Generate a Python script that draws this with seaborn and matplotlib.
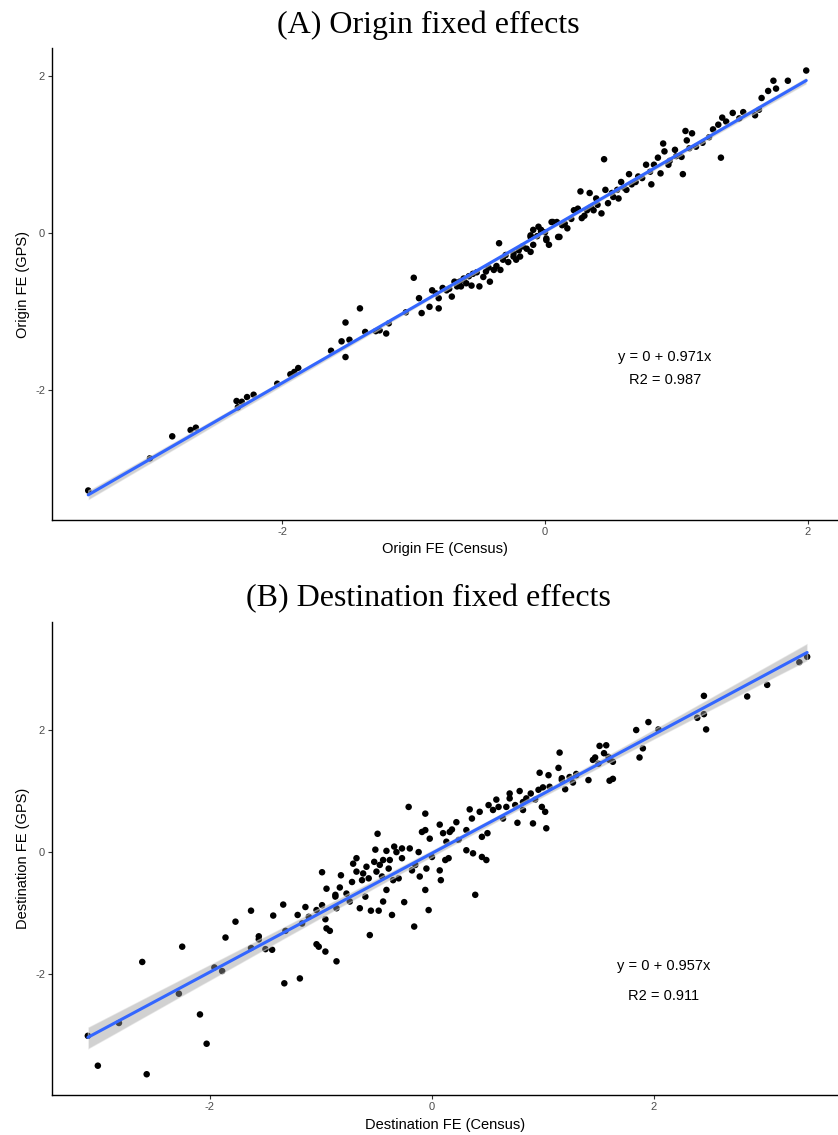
import numpy as np
import pandas as pd
import matplotlib
matplotlib.use("Agg")
import matplotlib.pyplot as plt
import seaborn as sns

# ---------------- data ----------------
origin_census = [
    -3.48, -3.01, -2.84, -2.70, -2.66, -2.35, -2.31, -2.34, -2.27, -2.22, -2.04, -1.94, -1.91, -1.88,
    -1.63, -1.55, -1.52, -1.52, -1.49,
    -1.41, -1.37, -1.29, -1.26, -1.21, -1.19, -1.06, -1.00, -0.96, -0.94, -0.88, -0.86, -0.83, -0.81,
    -0.81, -0.78, -0.75, -0.71, -0.69, -0.67, -0.64, -0.62, -0.60, -0.56, -0.55, -0.50, -0.47, -0.45,
    -0.42, -0.43, -0.39, -0.37, -0.35, -0.34, -0.32, -0.28, -0.24, -0.22, -0.19, -0.14, -0.11, -0.09,
    -0.11, -0.09, -0.05, -0.03, 0.01, 0.03, 0.05, 0.09, 0.10,
    -0.24, -0.17, -0.11, -0.03, 0.01, 0.06, 0.11, 0.17, 0.22, 0.25, 0.27, 0.28, 0.32, 0.34, 0.37, 0.39,
    0.43, 0.45, 0.46, 0.48, 0.51, 0.55, 0.56, 0.58, 0.62, 0.64, 0.69, 0.71, 0.77, 0.81, 0.83, 0.86,
    0.88, 0.90, 0.91, 0.94, 0.99, 1.04, 1.05, 1.07, 1.08, 1.12,
    1.28, 1.32, 1.35, 1.38, 1.34, 1.43, 1.48, 1.51, 1.60, 1.63, 1.65, 1.70, 1.74, 1.76, 1.85, 1.99,
    0.15, 0.20, 0.30, 0.35, 0.40, 0.52, 0.60, 0.66, 0.74, 0.80, 0.95, 1.00, 1.10, 1.15, 1.20, 1.25,
    -0.30, -0.20, -0.06, 0.00, 0.13, -0.52, -0.58, -0.65, -0.73,
]
origin_gps = [
    -3.28, -2.87, -2.59, -2.51, -2.48, -2.14, -2.15, -2.22, -2.09, -2.06, -1.92, -1.80, -1.77, -1.72,
    -1.50, -1.38, -1.14, -1.58, -1.36,
    -0.96, -1.26, -1.25, -1.24, -1.28, -1.15, -1.01, -0.57, -0.83, -1.02, -0.94, -0.73, -0.77, -0.96,
    -0.83, -0.70, -0.73, -0.81, -0.62, -0.68, -0.68, -0.58, -0.64, -0.67, -0.52, -0.68, -0.56, -0.49,
    -0.62, -0.44, -0.47, -0.42, -0.13, -0.47, -0.34, -0.37, -0.26, -0.34, -0.30, -0.20, -0.24, -0.15,
    -0.03, 0.04, 0.08, 0.02, -0.07, -0.15, 0.14, 0.14, -0.05,
    -0.30, -0.17, -0.05, 0.04, -0.09, 0.14, -0.05, 0.06, 0.29, 0.31, 0.53, 0.19, 0.29, 0.51, 0.29, 0.44,
    0.25, 0.94, 0.55, 0.38, 0.51, 0.55, 0.44, 0.65, 0.55, 0.75, 0.65, 0.72, 0.87, 0.62, 0.87, 0.96,
    0.76, 1.14, 1.04, 0.87, 1.06, 0.97, 0.75, 1.30, 1.18, 1.27,
    1.32, 1.38, 1.47, 1.42, 0.96, 1.53, 1.46, 1.54, 1.50, 1.57, 1.72, 1.81, 1.94, 1.84, 1.94, 2.07,
    0.12, 0.18, 0.22, 0.33, 0.36, 0.46, 0.58, 0.62, 0.70, 0.78, 0.92, 0.98, 1.08, 1.10, 1.15, 1.22,
    -0.28, -0.22, -0.04, 0.01, 0.10, -0.50, -0.55, -0.62, -0.71,
]

dest_census = [
    -3.10, -3.01, -2.82, -2.61, -2.57, -2.28, -2.25, -2.09, -2.03, -1.96, -1.89, -1.86, -1.77, -1.63,
    -1.63, -1.56, -1.56, -1.50, -1.44, -1.43, -1.34, -1.33, -1.32, -1.21, -1.19, -1.17, -1.14, -1.11,
    -1.04, -1.04, -1.02, -0.96, -0.96, -0.95, -0.92, -0.86, -0.95, -0.99, -0.87, -0.86,
    -0.99, -0.87, -0.83, -0.82, -0.77, -0.74, -0.72, -0.71, -0.68, -0.68, -0.65, -0.63, -0.62, -0.60,
    -0.59, -0.57, -0.56, -0.55, -0.52, -0.51, -0.50, -0.49, -0.48, -0.47, -0.45, -0.44, -0.44, -0.41,
    -0.41, -0.39, -0.38, -0.36, -0.35, -0.34, -0.32, -0.30, -0.27, -0.27, -0.25, -0.21, -0.20, -0.18,
    -0.16, -0.15, -0.12, -0.11, -0.09, -0.06, -0.06, -0.06, -0.05, -0.03, -0.02, 0.00, 0.07, 0.07,
    0.08, 0.10, 0.12, 0.13, 0.15, 0.16, 0.18, 0.22, 0.24, 0.31, 0.31, 0.34, 0.36, 0.37, 0.39, 0.43,
    0.45, 0.49, 0.51, 0.50,
    0.45, 0.55, 0.58, 0.60, 0.64, 0.67, 0.70, 0.70, 0.75, 0.77, 0.79, 0.82, 0.82, 0.85, 0.89, 0.91,
    0.93, 0.96, 0.97, 0.99, 1.00, 1.02, 1.03, 1.05, 1.06, 1.14, 1.15, 1.17, 1.20, 1.24, 1.27, 1.30,
    1.41, 1.45, 1.50, 1.51, 1.55, 1.57, 1.60, 1.59,
    1.17, 1.30, 1.47, 1.60, 1.63, 1.63, 1.84, 1.87, 1.90, 1.95, 2.04, 2.39, 2.45, 2.45, 2.47, 2.84,
    3.02, 3.31, 3.38,
]
dest_gps = [
    -3.01, -3.50, -2.80, -1.80, -3.64, -2.32, -1.55, -2.66, -3.14, -1.89, -1.95, -1.40, -1.14, -0.96,
    -1.57, -1.38, -1.43, -1.59, -1.60, -1.04, -0.86, -2.15, -1.29, -1.03, -2.07, -1.17, -0.90, -1.06,
    -0.95, -1.51, -1.55, -1.63, -1.10, -1.25, -1.29, -1.79, -0.60, -0.87, -0.73, -0.92,
    -0.33, -0.70, -0.58, -0.38, -0.68, -0.81, -0.49, -0.19, -0.10, -0.32, -0.92, -0.46, -0.35, -0.73,
    -0.24, -0.43, -1.36, -0.96, -0.16, 0.04, -0.32, 0.30, -0.96, -0.21, -0.40, -0.81, -0.13, -0.62,
    0.02, -0.27, -0.13, -1.03, -0.46, 0.09, 0.00, -0.43, 0.06, -0.10, -0.82, 0.74, 0.06, -0.30,
    -1.22, -0.21, 0.00, -0.40, 0.33, 0.63, 0.36, -0.62, -0.27, -0.95, 0.22, -0.08, 0.45, -0.30,
    -0.46, 0.31, -0.13, 0.17, -0.10, 0.33, 0.37, 0.49, 0.20, 0.36, 0.03, 0.70, 0.55, -0.02, -0.70, 0.66,
    -0.08, -0.13, 0.77, 0.31,
    0.25, 0.69, 0.86, 0.74, 0.55, 0.74, 0.96, 0.88, 0.77, 0.48, 1.00, 0.82, 0.69, 0.88, 0.96, 0.47,
    0.86, 1.02, 1.30, 0.74, 1.06, 0.66, 0.39, 1.26, 1.07, 1.38, 1.63, 1.18, 1.03, 1.23, 1.14, 1.26,
    1.18, 1.51, 1.45, 1.74, 1.62, 1.75, 1.17, 1.56,
    1.21, 1.28, 1.55, 1.51, 1.48, 1.20, 2.00, 1.55, 1.70, 2.13, 2.01, 2.20, 2.56, 2.26, 2.01, 2.55,
    2.74, 3.11, 3.20,
]

titles = ["(A) Origin fixed effects", "(B) Destination fixed effects"]
xlabels = ["Origin FE (Census)", "Destination FE (Census)"]
ylabels = ["Origin FE (GPS)", "Destination FE (GPS)"]
eq_lines = [["y = 0 + 0.971x", "R2 = 0.987"], ["y = 0 + 0.957x", "R2 = 0.911"]]
ticks = [-2, 0, 2]

# ---------------- figure ----------------
sns.set_theme(style="white")
plt.rcParams["font.family"] = ["Liberation Sans", "DejaVu Sans"]

W, H = 838, 1135
fig = plt.figure(figsize=(W / 100, H / 100), dpi=100)
ax1 = fig.add_axes([52 / W, 1 - 520 / H, 786 / W, 472 / H])
ax2 = fig.add_axes([52 / W, 1 - 1095 / H, 786 / W, 473 / H])

dfs = [pd.DataFrame({"x": origin_census, "y": origin_gps}),
       pd.DataFrame({"x": dest_census, "y": dest_gps})]
xlims = [(-3.756, 2.232), (-3.423, 3.658)]
ylims = [(-3.656, 2.357), (-3.98, 3.77)]
text_x = [0.914, 2.09]
text_y = [(-1.58, -1.87), (-1.87, -2.36)]
title_y = [25, 599]

for ax, df, title, xl, yl, eq, xlim, ylim, tx, ty, tyy in zip(
        [ax1, ax2], dfs, titles, xlabels, ylabels, eq_lines, xlims, ylims,
        text_x, text_y, title_y):
    sns.regplot(data=df, x="x", y="y", ax=ax, ci=95, truncate=True,
                scatter_kws=dict(s=22, color="black", edgecolor="none", alpha=1),
                line_kws=dict(color="#3366FF", lw=2.2))
    for coll in ax.collections:
        if isinstance(coll, matplotlib.collections.PolyCollection):
            coll.set_facecolor("#999999")
            coll.set_alpha(0.45)
            coll.set_zorder(3)
    for line in ax.lines:
        line.set_zorder(4)
    ax.set_xlim(*xlim)
    ax.set_ylim(*ylim)
    ax.set_xticks(ticks)
    ax.set_yticks(ticks)
    ax.set_xticklabels([str(t) for t in ticks])
    ax.set_yticklabels([str(t) for t in ticks])
    for side in ["top", "right"]:
        ax.spines[side].set_visible(False)
    for side in ["left", "bottom"]:
        ax.spines[side].set_color("black")
        ax.spines[side].set_linewidth(1.0)
    ax.tick_params(axis="both", length=3, width=0.8, color="#333333",
                   labelsize=8, labelcolor="#4d4d4d", direction="out", pad=2,
                   bottom=True, left=True)
    ax.set_xlabel(xl, fontsize=10.5, color="black", labelpad=4)
    ax.set_ylabel(yl, fontsize=10.5, color="black", labelpad=4)
    ax.grid(False)
    fig.text(428 / W, 1 - tyy / H, title, ha="center", va="center", fontsize=23,
             family=["Liberation Serif", "DejaVu Serif"], color="black")
    for line_txt, yv in zip(eq, ty):
        ax.text(tx, yv, line_txt, ha="center", va="center", fontsize=10.5,
                color="black")

fig.savefig("out.png", dpi=100)
